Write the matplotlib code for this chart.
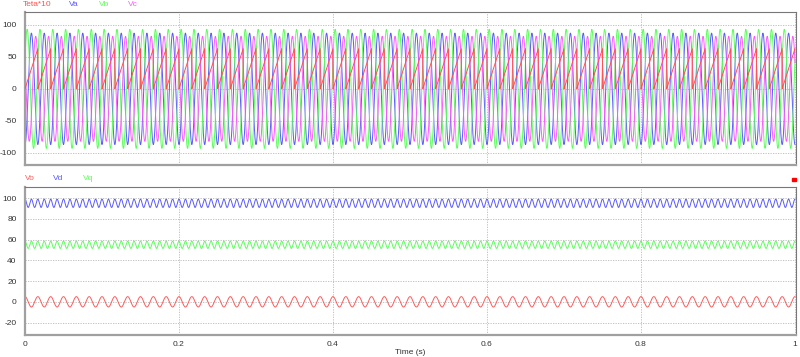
import numpy as np
import matplotlib.pyplot as plt

plt.rcParams['font.family'] = ['Liberation Sans', 'DejaVu Sans']
plt.rcParams['axes.unicode_minus'] = False

# values
time_ticks = [0, 0.2, 0.4, 0.6, 0.8, 1]
time_tick_labels = ["0", "0.2", "0.4", "0.6", "0.8", "1"]

top_labels = ["Teta*10", "Va", "Vb", "Vc"]
top_colors = ["#ff5050", "#5a5aff", "#5aff5a", "#ff5aff"]
top_yticks = [-100, -50, 0, 50, 100]
grid_freq = 60            # Hz
teta_scale = 10
phase_amps = [87, 93, 82]           # Va, Vb, Vc peak
phase_shift_deg = [-90, 30, 150]    # Va, Vb, Vc

dq_labels = ["Vo", "Vd", "Vq"]
dq_colors = ["#ff5a5a", "#5a5aff", "#5aff5a"]
dq_yticks = [-20, 0, 20, 40, 60, 80, 100]
dq_mean = [0, 95, 55]
dq_ripple = [5, 4, 3.5]
dq_ripple_freq = [60, 120, 120]

t = np.arange(0, 1.0001, 1e-4)
theta = (2 * np.pi * grid_freq * t) % (2 * np.pi)

fig = plt.figure(figsize=(8, 3.57), dpi=100)
ax1 = fig.add_axes([25 / 800, 1 - 165 / 357, 771 / 800, 153 / 357])
ax2 = fig.add_axes([25 / 800, 1 - 335 / 357, 771 / 800, 148.3 / 357])

ax1.plot(t, theta * teta_scale, color=top_colors[0], lw=0.7, zorder=5)
for amp, ph, col in zip(phase_amps, phase_shift_deg, top_colors[1:]):
    ax1.plot(t, amp * np.sin(2 * np.pi * grid_freq * t + np.deg2rad(ph)), color=col, lw=0.7)
ax1.set_ylim(-119, 120)
ax1.set_yticks(top_yticks)

for mean, rip, f, col in zip(dq_mean, dq_ripple, dq_ripple_freq, dq_colors):
    ax2.plot(t, mean + rip * np.cos(2 * np.pi * f * t), color=col, lw=0.7)
ax2.set_ylim(-32, 111)
ax2.set_yticks(dq_yticks)

for ax in (ax1, ax2):
    ax.set_xlim(0, 1.0013)
    ax.set_xticks(time_ticks)
    ax.grid(True, color="#b8b8b8", linestyle=(0, (1.5, 1.5)), lw=0.6)
    ax.set_axisbelow(True)
    ax.tick_params(length=0, labelsize=6, colors="#333333", pad=6)
    for s in ("top", "right"):
        ax.spines[s].set_color("#777777")
        ax.spines[s].set_linewidth(0.8)
    for s in ("left", "bottom"):
        ax.spines[s].set_color("#a0a0a0")
        ax.spines[s].set_linewidth(1.6)

ax1.set_xticklabels([])
ax2.set_xticklabels(time_tick_labels)
ax2.tick_params(axis="x", pad=4)
ax2.set_xlabel("Time (s)", fontsize=6, color="#333333", labelpad=1)

# legend-like labels above each panel
top_label_x = [23, 69, 99, 128]
for lab, col, x in zip(top_labels, top_colors, top_label_x):
    fig.text(x / 800, 1 - 5 / 357, lab, color=col, fontsize=6, va="center")
dq_label_x = [25, 53, 83]
for lab, col, x in zip(dq_labels, dq_colors, dq_label_x):
    fig.text(x / 800, 1 - 178 / 357, lab, color=col, fontsize=6, va="center")

fig.add_artist(plt.Rectangle((792 / 800, 1 - 181 / 357), 3.5 / 800, 3.5 / 357,
                             transform=fig.transFigure, color="#ff0000"))

fig.savefig("out.png", dpi=100)
